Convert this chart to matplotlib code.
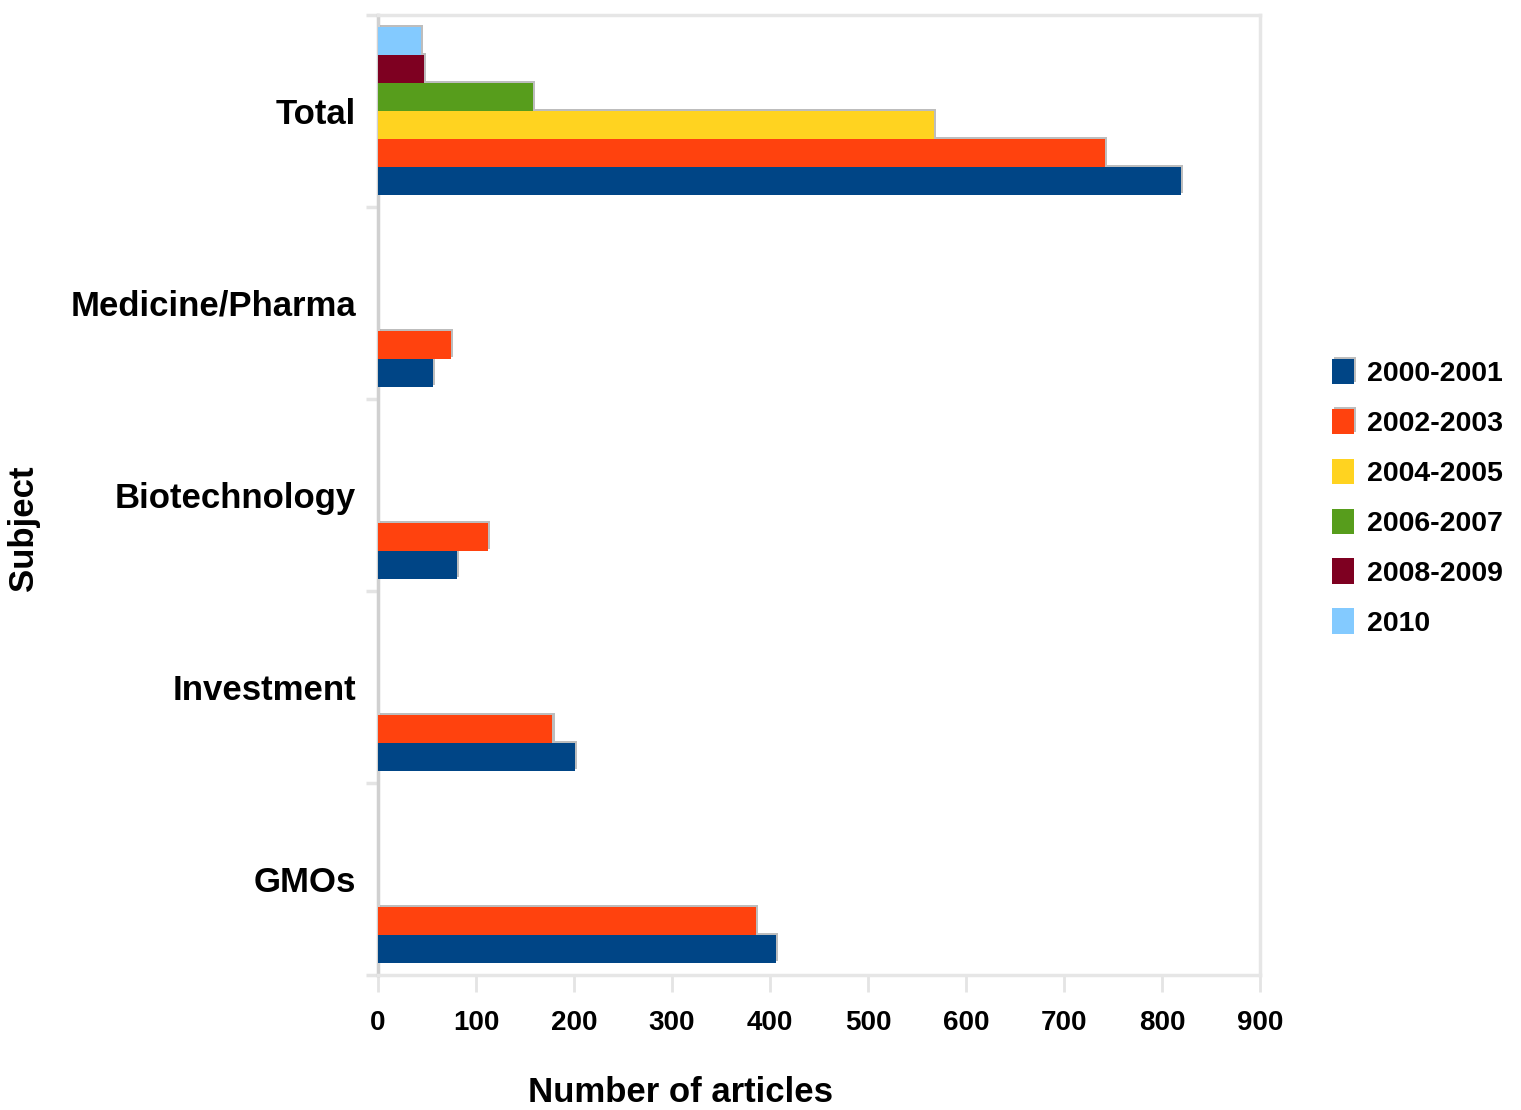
import matplotlib
matplotlib.use("Agg")
import matplotlib.pyplot as plt
import matplotlib.patheffects as pe
import numpy as np

categories = ["GMOs", "Investment", "Biotechnology", "Medicine/Pharma", "Total"]
series_names = ["2000-2001", "2002-2003", "2004-2005", "2006-2007", "2008-2009", "2010"]
v_2000_2001 = [406, 201, 81, 56, 819]
v_2002_2003 = [386, 178, 112, 74, 742]
v_2004_2005 = [0, 0, 0, 0, 567]
v_2006_2007 = [0, 0, 0, 0, 158]
v_2008_2009 = [0, 0, 0, 0, 47]
v_2010 = [0, 0, 0, 0, 44]
series_values = [v_2000_2001, v_2002_2003, v_2004_2005, v_2006_2007, v_2008_2009, v_2010]
colors = ["#004586", "#ff420e", "#ffd320", "#579d1c", "#7e0021", "#83caff"]
x_ticks = [0, 100, 200, 300, 400, 500, 600, 700, 800, 900]

plt.rcParams['font.family'] = ['Liberation Sans', 'DejaVu Sans']

fig = plt.figure(figsize=(15.21, 11.10), dpi=100)
ax = fig.add_axes([378/1521, 1 - 975/1110, (1260-378)/1521, (975-15)/1110])

n = len(series_names)
h = 0.146
y = np.arange(len(categories))
shadow = [pe.SimplePatchShadow(offset=(1.5, 1.5), shadow_rgbFace='#888888', alpha=0.55), pe.Normal()]
for i, (name, vals, c) in enumerate(zip(series_names, series_values, colors)):
    bars = ax.barh(y + (i - (n - 1) / 2) * h, vals, height=h, color=c, label=name,
                   edgecolor='none', linewidth=0, zorder=3)
    for b, v in zip(bars, vals):
        if v > 0:
            b.set_path_effects(shadow)

ax.set_xlim(0, 900)
ax.set_ylim(-0.5, len(categories) - 0.5)
ax.set_xticks(x_ticks)
ax.set_xticklabels([str(t) for t in x_ticks], fontsize=20, fontweight='bold')
ax.set_yticks(y)
ax.set_yticklabels(categories, fontsize=25, fontweight='bold')
ax.set_yticks(np.arange(len(categories) + 1) - 0.5, minor=True)
ax.tick_params(axis='y', which='major', length=0, pad=16)
ax.tick_params(axis='y', which='minor', length=9, width=2.5, color='#e4e4e4')
ax.tick_params(axis='x', which='major', length=12, width=2, color='#e4e4e4', pad=13)

for s in ax.spines.values():
    s.set_color('#e6e6e6')
    s.set_linewidth(2.5)
ax.spines['left'].set_color('#d0d0d0')

ax.set_xlabel("Number of articles", fontsize=25, fontweight='bold')
ax.xaxis.set_label_coords((680-378)/882, (975-1076)/960)
ax.set_ylabel("Subject", fontsize=25, fontweight='bold')
ax.yaxis.set_label_coords((40-378)/882, (975-528)/960)

handles, labels = ax.get_legend_handles_labels()
leg = fig.legend(handles, labels, loc='upper left', bbox_to_anchor=(1332/1521, 1 - 359/1110),
                 frameon=False, fontsize=20.5, handlelength=0.78, handleheight=1.0,
                 handletextpad=0.45, labelspacing=0.75, borderpad=0, borderaxespad=0)
for t in leg.get_texts():
    t.set_fontweight('bold')

fig.savefig("out.png", dpi=100, facecolor='white')
